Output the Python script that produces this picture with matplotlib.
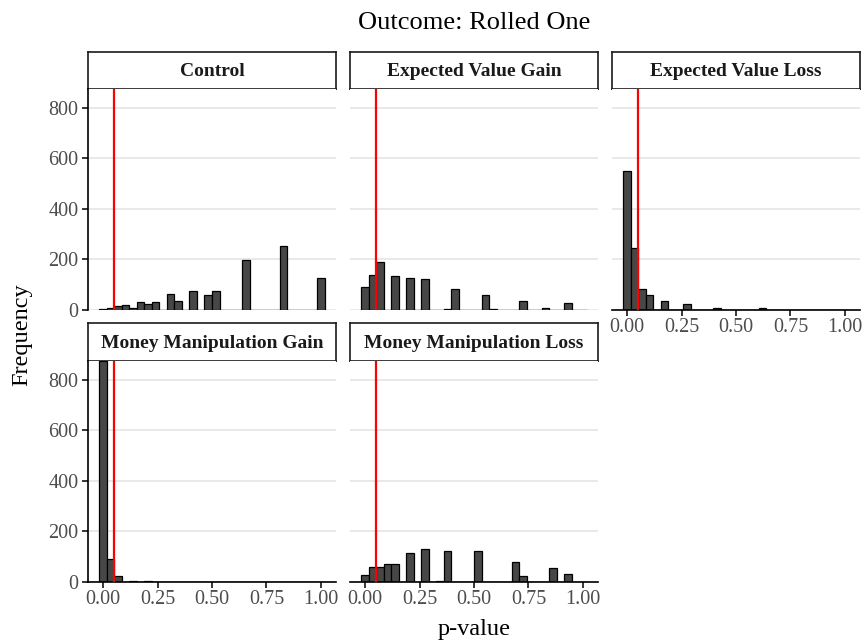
"""
Faceted p-value histograms, outcome "Rolled One".
"""

import numpy as np
import matplotlib
matplotlib.use("Agg")
import matplotlib.pyplot as plt

# Data: counts for 30 bins (bin centres k/29, k = 0..29)
groups = ["Control", "Expected Value Gain", "Expected Value Loss",
          "Money Manipulation Gain", "Money Manipulation Loss"]

control = [3, 8, 15, 20, 7, 33, 24, 30, 0, 65, 36, 0, 77, 0, 59, 77,
           0, 0, 0, 197, 0, 0, 0, 0, 254, 0, 0, 0, 0, 127]
ev_gain = [92, 140, 190, 0, 133, 0, 128, 0, 122, 0, 0, 2, 83, 0, 0, 0,
           60, 4, 0, 0, 0, 36, 0, 0, 9, 0, 0, 26, 0, 0]
ev_loss = [551, 245, 82, 60, 0, 36, 0, 0, 25, 0, 0, 0, 8, 0, 0, 0,
           0, 0, 6, 0, 0, 0, 0, 0, 0, 0, 0, 0, 0, 0]
mm_gain = [875, 90, 22, 0, 5, 0, 5, 0, 0, 0, 1, 0, 0, 0, 0, 0,
           0, 0, 0, 0, 0, 0, 0, 0, 0, 0, 0, 0, 0, 0]
mm_loss = [29, 58, 61, 73, 73, 0, 114, 0, 131, 0, 3, 124, 0, 0, 0, 124,
           0, 0, 0, 0, 81, 24, 0, 0, 0, 57, 0, 30, 0, 0]
counts = [control, ev_gain, ev_loss, mm_gain, mm_loss]

alpha_line = 0.05
x_ticks = [0.0, 0.25, 0.5, 0.75, 1.0]
x_ticklabels = ["0.00", "0.25", "0.50", "0.75", "1.00"]
y_ticks = [0, 200, 400, 600, 800]

n_bins = 30
centers = np.arange(n_bins) / (n_bins - 1)
width = 1.0 / (n_bins - 1)

plt.rcParams["font.family"] = ["Liberation Serif", "DejaVu Serif"]

W, H = 868, 644
fig = plt.figure(figsize=(W / 100, H / 100), dpi=100)


def box(x0, y0, x1, y1):
    # pixel box (top-left origin) -> figure fraction rect
    return [x0 / W, 1 - y1 / H, (x1 - x0) / W, (y1 - y0) / H]


cols = [(88, 336), (350, 598), (612, 860)]
rows = [(89, 310, 52), (361, 582, 323)]
grey = "#4d4d4d"

for i, (name, vals) in enumerate(zip(groups, counts)):
    r, c = divmod(i, 3)
    x0, x1 = cols[c]
    y0, y1, s0 = rows[r]

    # strip
    sax = fig.add_axes(box(x0, s0, x1, y0))
    sax.set_xticks([])
    sax.set_yticks([])
    for sp in sax.spines.values():
        sp.set_linewidth(1.2)
        sp.set_color("#1a1a1a")
    sax.text(0.5, 0.47, name, ha="center", va="center",
             fontsize=14, fontweight="bold", color="#1a1a1a",
             transform=sax.transAxes)

    ax = fig.add_axes(box(x0, y0, x1, y1))
    ax.bar(centers, vals, width=width, color="#474747",
           edgecolor="black", linewidth=0.9, zorder=2)
    ax.axvline(alpha_line, color="red", linewidth=1.6, zorder=3)

    ax.set_xlim(-0.069, 1.069)
    ax.set_ylim(0, 875)
    ax.set_yticks(y_ticks)
    ax.set_xticks(x_ticks)
    ax.yaxis.grid(True, color="#e5e5e5", linewidth=1.2, zorder=0)
    ax.set_axisbelow(True)
    for side in ["top", "right"]:
        ax.spines[side].set_visible(False)

    show_x = (r == 1) or (c == 2)
    show_y = (c == 0)
    ax.spines["left"].set_visible(show_y)
    ax.spines["bottom"].set_visible(show_x)
    ax.spines["left"].set_linewidth(1.2)
    ax.spines["bottom"].set_linewidth(1.2)
    ax.tick_params(axis="y", left=show_y, labelleft=show_y,
                   length=4, width=1.1, pad=3, labelsize=14.5,
                   labelcolor=grey)
    ax.tick_params(axis="x", bottom=show_x, labelbottom=show_x,
                   length=4, width=1.1, pad=2, labelsize=14.5,
                   labelcolor=grey)
    if show_x:
        ax.set_xticklabels(x_ticklabels)

fig.text(474 / W, 1 - 23 / H, "Outcome: Rolled One", ha="center",
         va="center", fontsize=19)
fig.text(474 / W, 1 - 629 / H, "p-value", ha="center", va="center",
         fontsize=17.5)
fig.text(22 / W, 1 - 335 / H, "Frequency", ha="center", va="center",
         rotation=90, fontsize=17.5)

fig.savefig("out.png", dpi=100)
